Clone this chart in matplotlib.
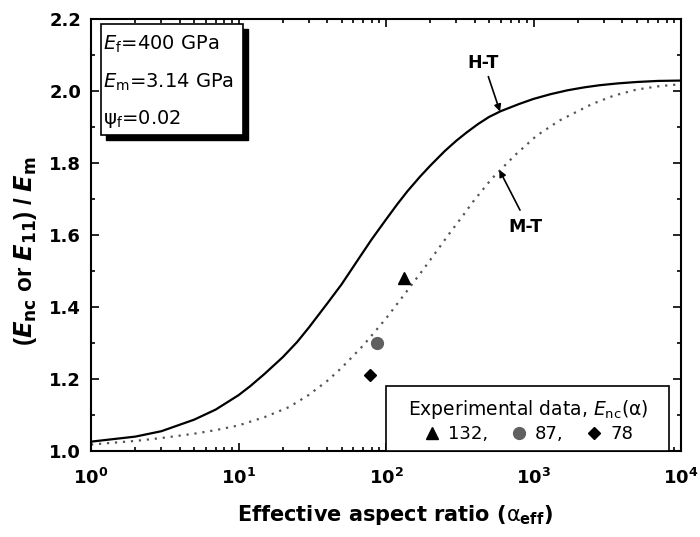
import matplotlib
matplotlib.use("Agg")
import matplotlib.pyplot as plt
from matplotlib.lines import Line2D
from matplotlib.patches import Rectangle
from matplotlib.ticker import MultipleLocator, FixedLocator, FixedFormatter, LogLocator, NullFormatter

plt.rcParams['font.family'] = ['DejaVu Sans']
plt.rcParams['mathtext.fontset'] = 'custom'
plt.rcParams['mathtext.rm'] = 'DejaVu Sans'
plt.rcParams['mathtext.it'] = 'DejaVu Sans:italic'
plt.rcParams['mathtext.bf'] = 'DejaVu Sans:italic:bold'
plt.rcParams['mathtext.sf'] = 'DejaVu Sans:bold'

# ---- data ----
ht_x = [1, 2, 3, 5, 7, 10, 12, 15, 20, 25, 30, 40, 50, 65, 80, 100, 120, 140, 170, 200,
        250, 300, 350, 420, 500, 600, 800, 1000, 1300, 1700, 2200, 2800, 3700, 5000, 7000, 10000]
ht_y = [1.026, 1.040, 1.055, 1.087, 1.115, 1.155, 1.180, 1.214, 1.261, 1.303, 1.343, 1.410,
        1.463, 1.533, 1.588, 1.643, 1.687, 1.722, 1.762, 1.793,
        1.833, 1.862, 1.884, 1.908, 1.928, 1.944, 1.964, 1.978, 1.991, 2.002, 2.010, 2.016,
        2.021, 2.025, 2.028, 2.029]

mt_x = [1, 2, 3, 5, 7, 10, 15, 22, 30, 40, 50, 70, 100, 135, 175, 225, 270, 330, 390, 520,
        750, 1050, 1500, 2000, 2500, 3500, 5000, 7000, 10000]
mt_y = [1.018, 1.028, 1.036, 1.048, 1.058, 1.071, 1.094, 1.122, 1.156, 1.195, 1.231,
        1.293, 1.368, 1.438, 1.499, 1.560, 1.605, 1.652, 1.693, 1.756,
        1.822, 1.876, 1.918, 1.944, 1.964, 1.987, 2.004, 2.013, 2.019]

exp_alpha = [132, 87, 78]
exp_ratio = [1.48, 1.30, 1.21]
exp_labels = ['132,', '87,', '78']
exp_markers = ['^', 'o', 'D']
exp_colors = ['black', '#606060', 'black']
exp_sizes = [9, 8.5, 6.5]

x_ticks = [1, 10, 100, 1000, 10000]
x_ticklabels = [r'10$^{\mathsf{0}}$', r'10$^{\mathsf{1}}$', r'10$^{\mathsf{2}}$',
                r'10$^{\mathsf{3}}$', r'10$^{\mathsf{4}}$']

fig = plt.figure(figsize=(7, 5.37), dpi=100)
ax = fig.add_axes([91/700, 86/537, 590/700, 432/537])

ax.plot(ht_x, ht_y, color='black', lw=1.6, solid_joinstyle='round')
ax.plot(mt_x, mt_y, color='#555555', lw=1.6, linestyle=(0, (1, 2.6)))

for xa, ya, m, c, s in zip(exp_alpha, exp_ratio, exp_markers, exp_colors, exp_sizes):
    ax.plot([xa], [ya], marker=m, color=c, ms=s, ls='none')

ax.set_xscale('log')
ax.set_xlim(1, 10000)
ax.set_ylim(1.0, 2.2)

ax.xaxis.set_major_locator(FixedLocator(x_ticks))
ax.xaxis.set_major_formatter(FixedFormatter(x_ticklabels))
ax.xaxis.set_minor_locator(LogLocator(base=10, subs=range(2, 10)))
ax.xaxis.set_minor_formatter(NullFormatter())
ax.yaxis.set_major_locator(MultipleLocator(0.2))
ax.yaxis.set_minor_locator(MultipleLocator(0.1))
ax.yaxis.set_major_formatter(plt.FuncFormatter(lambda v, p: f'{v:.1f}'))

ax.tick_params(which='both', direction='in', top=True, right=True, width=1.2)
ax.tick_params(which='major', length=6)
ax.tick_params(which='minor', length=3)
ax.tick_params(axis='y', which='major', labelsize=13, pad=7)
ax.tick_params(axis='x', which='major', labelsize=13, pad=12)
for lab in ax.get_xticklabels() + ax.get_yticklabels():
    lab.set_fontweight('bold')
for sp in ax.spines.values():
    sp.set_linewidth(1.5)

ax.set_xlabel(r'Effective aspect ratio ($\mathrm{\alpha}_{\mathsf{eff}}$)',
              fontsize=15, fontweight='bold')
ax.xaxis.set_label_coords(0.515, -0.12)
ax.set_ylabel(r'($\mathbf{E}_{\mathsf{nc}}$ or $\mathbf{E}_{\mathsf{11}}$) / $\mathbf{E}_{\mathsf{m}}$',
              fontsize=17.5, fontweight='bold', family='Liberation Sans')
ax.yaxis.set_label_coords(-0.088, 0.463)

# info box with shadow
dx, dy = 5/590, 5/432
ax.add_patch(Rectangle((0.017 + dx, 0.731 - dy), 0.241, 0.257, transform=ax.transAxes,
                       facecolor='black', edgecolor='black', zorder=4))
ax.add_patch(Rectangle((0.017, 0.731), 0.241, 0.257, transform=ax.transAxes,
                       facecolor='white', edgecolor='black', lw=1.2, zorder=5))
info = [r'$E_{\mathrm{f}}$=400 GPa', r'$E_{\mathrm{m}}$=3.14 GPa', r'$\mathrm{\psi}_{\mathrm{f}}$=0.02']
for i, t in enumerate(info):
    ax.text(0.021, [0.928, 0.840, 0.757][i], t, transform=ax.transAxes,
            fontsize=14, va='baseline', ha='left', zorder=6)

# curve labels with arrows
ax.text(455, 2.078, 'H-T', fontsize=12.5, fontweight='bold', ha='center', va='center')
ax.annotate('', xy=(593, 1.943), xytext=(494, 2.040),
            arrowprops=dict(arrowstyle='-|>', color='black', lw=1.2,
                            mutation_scale=10, shrinkA=0, shrinkB=0))
ax.text(876, 1.622, 'M-T', fontsize=12.5, fontweight='bold', ha='center', va='center')
ax.annotate('', xy=(586, 1.781), xytext=(810, 1.669),
            arrowprops=dict(arrowstyle='-|>', color='black', lw=1.2,
                            mutation_scale=10, shrinkA=0, shrinkB=0))

# legend box (frame drawn separately to match the reference extent)
ax.add_patch(Rectangle((295/590, 0.0), 283/590, 65/432, transform=ax.transAxes,
                       facecolor='white', edgecolor='black', lw=1.2, zorder=6))
handles = [Line2D([], [], marker=m, color=c, ms=s, ls='none')
           for m, c, s in zip(exp_markers, exp_colors, exp_sizes)]
leg = ax.legend(handles, exp_labels, ncol=3, loc='lower center',
                bbox_to_anchor=(0.741, 0.0), borderaxespad=0,
                title=r'Experimental data, $E_{\mathrm{nc}}$($\mathrm{\alpha}$)',
                title_fontsize=13.5, fontsize=13, frameon=False,
                handlelength=1.0, handletextpad=0.4,
                columnspacing=1.2, borderpad=0.45, labelspacing=0.2)
leg.set_zorder(7)

fig.savefig('out.png', dpi=100)
